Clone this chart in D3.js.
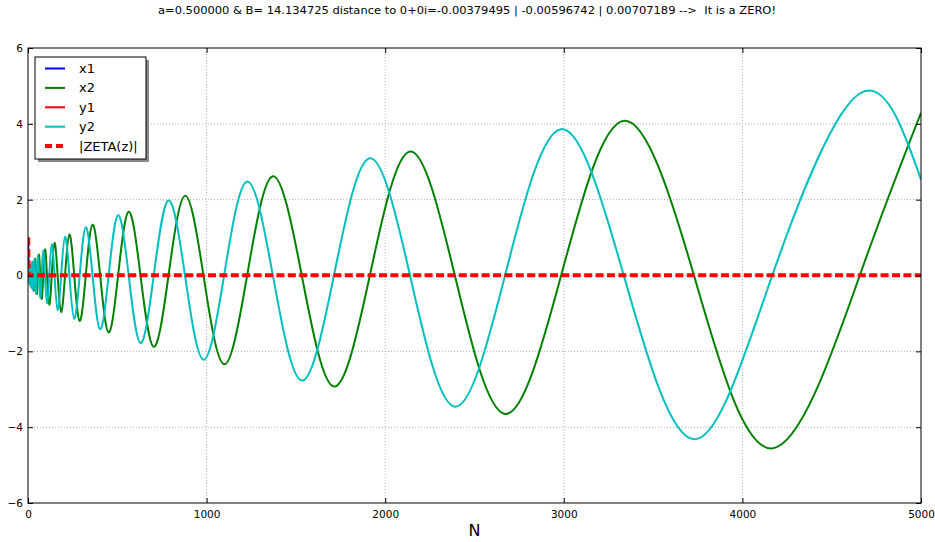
<!DOCTYPE html>
<html>
<head>
<meta charset="utf-8">
<script src="https://cdn.jsdelivr.net/npm/d3@7"></script>
<style>
  body { margin: 0; background: #fff; }
  text { font-family: "DejaVu Sans", sans-serif; }
</style>
</head>
<body>
<div id="chart"></div>
<script>
// Chart text
var title = "a=0.500000 & B= 14.134725 distance to 0+0i=-0.00379495 | -0.00596742 | 0.00707189 -->\u00a0 It is a ZERO!";
var xTicks = [0, 1000, 2000, 3000, 4000, 5000];
var yTicks = [-6, -4, -2, 0, 2, 4, 6];

// x1, y1, |ZETA(z)| : converge quickly to the (near) zero value
var nConv = [1, 2, 3, 4, 6, 10, 12];
var x1 = [1.0, 0.55, 0.15, 0.03, 0.0, -0.004, -0.0038];
var y1 = [0.0, 0.35, 0.12, 0.02, -0.005, -0.006, -0.006];
var nZeta = [1, 2, 3, 4, 6, 10, 5000];
var zetaAbs = [1.0, 0.65, 0.19, 0.04, 0.008, 0.007, 0.007];

// x2, y2 : partial sums, read at their peaks / zero crossings
var nSum = [3.79, 4.24, 4.74, 5.30, 5.92, 6.62, 7.39, 8.26, 9.23, 10.3, 11.5, 12.9, 14.4, 16.1, 18.0, 20.1,
  22.5, 25.1, 28.0, 31.3, 35.0, 39.1, 43.7, 48.9, 54.6, 61.1, 68.2, 76.3, 85.2, 95.2, 106.4, 119.0,
  132.9, 148.6, 166.0, 185.5, 207.3, 231.7, 258.9, 289.4, 323.4, 361.4, 403.9, 451.4, 504.4, 563.7,
  629.9, 704.0, 786.7, 879.2, 982.6, 1098, 1227, 1371, 1533, 1713, 1914, 2139, 2390, 2671, 2985,
  3336, 3729, 4167, 4657, 5000];
var x2 = [0, 0.15, 0, -0.16, 0, 0.18, 0, -0.20, 0, 0.23, 0, -0.25, 0, 0.28, 0, -0.32,
  0, 0.35, 0, -0.40, 0, 0.44, 0, -0.49, 0, 0.55, 0, -0.62, 0, 0.69, 0, -0.77,
  0, 0.86, 0, -0.96, 0, 1.08, 0, -1.20, 0, 1.34, 0, -1.50, 0, 1.68,
  0, -1.88, 0, 2.10, 0, -2.34, 0, 2.62, 0, -2.93, 0, 3.27, 0, -3.65, 0,
  4.08, 0, -4.56, 0, 4.29];
var y2 = [0.14, 0, -0.15, 0, 0.17, 0, -0.19, 0, 0.22, 0, -0.24, 0, 0.27, 0, -0.30, 0,
  0.34, 0, -0.37, 0, 0.42, 0, -0.47, 0, 0.52, 0, -0.58, 0, 0.65, 0, -0.73, 0,
  0.82, 0, -0.91, 0, 1.02, 0, -1.14, 0, 1.27, 0, -1.42, 0, 1.59, 0,
  -1.78, 0, 1.98, 0, -2.22, 0, 2.48, 0, -2.77, 0, 3.09, 0, -3.46, 0, 3.86,
  0, -4.32, 0, 4.80, 2.53];

var svgWidth = 935;
var svgHeight = 542;
var margin = { top: 48, right: 14, bottom: 39, left: 28 };
var width = svgWidth - margin.left - margin.right;
var height = svgHeight - margin.top - margin.bottom;

var svg = d3.select("#chart")
  .append("svg")
  .attr("width", svgWidth)
  .attr("height", svgHeight);

var chartGroup = svg.append("g")
  .attr("transform", `translate(${margin.left}, ${margin.top})`);

var xScale = d3.scaleLinear().domain([0, 5000]).range([0, width]);
var yScale = d3.scaleLinear().domain([-6, 6]).range([height, 0]);

// grid
chartGroup.append("g")
  .selectAll("line.gx")
  .data(xTicks.slice(1, -1))
  .enter().append("line")
  .attr("x1", d => xScale(d)).attr("x2", d => xScale(d))
  .attr("y1", 0).attr("y2", height)
  .attr("stroke", "#999").attr("stroke-width", 0.8).attr("stroke-dasharray", "1,2");

chartGroup.append("g")
  .selectAll("line.gy")
  .data(yTicks.slice(1, -1))
  .enter().append("line")
  .attr("x1", 0).attr("x2", width)
  .attr("y1", d => yScale(d)).attr("y2", d => yScale(d))
  .attr("stroke", "#999").attr("stroke-width", 0.8).attr("stroke-dasharray", "1,2");

// series
svg.append("defs").append("clipPath").attr("id", "plot")
  .append("rect").attr("width", width).attr("height", height);

var plot = chartGroup.append("g").attr("clip-path", "url(#plot)");

function drawLine(ns, vals, color, w, curve, dash) {
  var line = d3.line()
    .x(d => xScale(d[0]))
    .y(d => yScale(d[1]))
    .curve(curve);
  var p = plot.append("path")
    .datum(ns.map((n, i) => [n, vals[i]]))
    .attr("d", line)
    .attr("fill", "none")
    .attr("stroke", color)
    .attr("stroke-width", w);
  if (dash) p.attr("stroke-dasharray", dash);
}

drawLine(nConv, x1, "#0000ff", 2, d3.curveLinear);
drawLine(nSum, x2, "#008000", 2, d3.curveNatural);
drawLine(nConv, y1, "#ff0000", 2, d3.curveLinear);
drawLine(nSum, y2, "#00bfbf", 2, d3.curveNatural);
drawLine(nZeta, zetaAbs, "#ff0000", 4, d3.curveLinear, "8,3.4");

// axes (ticks inward, all four sides)
var bottomAxis = d3.axisBottom(xScale).tickValues(xTicks).tickSizeInner(-5).tickSizeOuter(0).tickPadding(8)
  .tickFormat(d3.format("d"));
var leftAxis = d3.axisLeft(yScale).tickValues(yTicks).tickSizeInner(-5).tickSizeOuter(0).tickPadding(5)
  .tickFormat(d => d < 0 ? "\u2212" + Math.abs(d) : d);
var topAxis = d3.axisTop(xScale).tickValues(xTicks).tickSizeInner(-5).tickSizeOuter(0).tickFormat("");
var rightAxis = d3.axisRight(yScale).tickValues(yTicks).tickSizeInner(-5).tickSizeOuter(0).tickFormat("");

chartGroup.append("g").attr("transform", `translate(0, ${height})`).call(bottomAxis);
chartGroup.append("g").call(leftAxis);
chartGroup.append("g").call(topAxis);
chartGroup.append("g").attr("transform", `translate(${width}, 0)`).call(rightAxis);

chartGroup.selectAll(".domain").remove();
chartGroup.selectAll(".tick line").attr("stroke", "#000");
chartGroup.selectAll(".tick text").attr("font-size", "10.5px").attr("fill", "#000")
  .style("font-family", "DejaVu Sans");

chartGroup.append("rect")
  .attr("width", width).attr("height", height)
  .attr("fill", "none").attr("stroke", "#000").attr("stroke-width", 1);

// title
svg.append("text")
  .attr("x", 467).attr("y", 14)
  .attr("text-anchor", "middle")
  .attr("font-size", "10px")
  .attr("textLength", 618)
  .attr("lengthAdjust", "spacingAndGlyphs")
  .text(title);

// x label
svg.append("text")
  .attr("x", margin.left + width / 2).attr("y", 536)
  .attr("text-anchor", "middle")
  .attr("font-size", "16px")
  .text("N");

// legend
var legendItems = [
  { name: "x1", color: "#0000ff", w: 2 },
  { name: "x2", color: "#008000", w: 2 },
  { name: "y1", color: "#ff0000", w: 2 },
  { name: "y2", color: "#00bfbf", w: 2 },
  { name: "|ZETA(z)|", color: "#ff0000", w: 4, dash: "7,4" }
];

var legend = svg.append("g").attr("transform", "translate(35, 57)");
legend.append("rect")
  .attr("x", 3).attr("y", 3).attr("width", 111).attr("height", 102)
  .attr("fill", "#888");
legend.append("rect")
  .attr("width", 111).attr("height", 102)
  .attr("fill", "#fff").attr("stroke", "#000").attr("stroke-width", 1);

var rows = legend.selectAll("g.row")
  .data(legendItems)
  .enter().append("g")
  .attr("transform", (d, i) => `translate(0, ${11.5 + i * 19.4})`);

rows.append("line")
  .attr("x1", 10).attr("x2", 30)
  .attr("stroke", d => d.color)
  .attr("stroke-width", d => d.w)
  .attr("stroke-dasharray", d => d.dash || null);

rows.append("text")
  .attr("x", 44).attr("y", 4.5)
  .attr("font-size", "13px")
  .text(d => d.name);
</script>
</body>
</html>
